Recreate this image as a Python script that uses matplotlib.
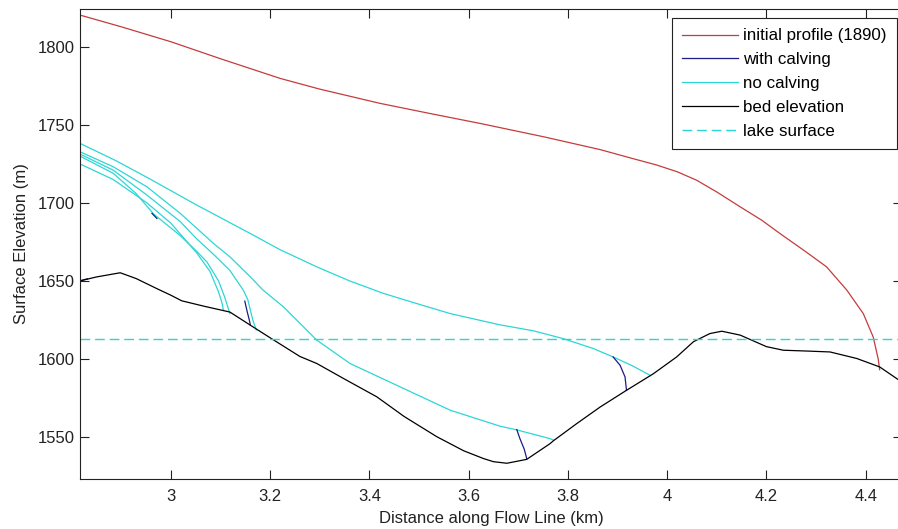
import matplotlib
matplotlib.use("Agg")
import matplotlib.pyplot as plt
from matplotlib.ticker import FixedLocator, FormatStrFormatter

plt.rcParams["font.family"] = ["Liberation Sans", "DejaVu Sans"]
plt.rcParams["font.size"] = 12

# Initial glacier surface profile (1890)
initial_x = [2.817, 2.9, 3.0, 3.1, 3.22, 3.3, 3.421, 3.52, 3.623, 3.75, 3.865,
             3.93, 3.979, 4.02, 4.059, 4.1, 4.147, 4.19, 4.227, 4.28, 4.321,
             4.362, 4.395, 4.415, 4.425, 4.428]
initial_y = [1820.5, 1813, 1803.4, 1792.5, 1779.9, 1773, 1763.9, 1757.5, 1751,
             1742.5, 1734.2, 1728.5, 1724.3, 1720, 1714.6, 1707, 1697.5,
             1689, 1680.4, 1668.5, 1659, 1644, 1629, 1614, 1600, 1593]

# Bed elevation along the flow line
bed_x = [2.817, 2.85, 2.898, 2.93, 2.972, 3.0, 3.022, 3.07, 3.119, 3.16, 3.2,
         3.26, 3.294, 3.35, 3.415, 3.47, 3.536, 3.59, 3.63, 3.65, 3.677, 3.717,
         3.764, 3.771, 3.818, 3.865, 3.918, 3.972, 4.019, 4.053, 4.086, 4.11,
         4.147, 4.2, 4.234, 4.28, 4.328, 4.382, 4.428, 4.473]
bed_y = [1650, 1652.5, 1655.2, 1651.5, 1645, 1640.8, 1637.2, 1633.5, 1630,
         1621.6, 1613.5, 1601.5, 1597, 1587, 1575.6, 1563, 1550, 1541, 1536,
         1534, 1533, 1535.5, 1545.6, 1547.5, 1558.5, 1569.1, 1579.8, 1590.4,
         1601.2, 1611, 1616.2, 1617.7, 1615.2, 1607.8, 1605.5, 1605, 1604.4,
         1600.2, 1594.8, 1585]

lake_level = 1613

# Modelled surfaces without calving
nocalv_x = [
    [2.817, 2.89, 2.96, 3.05, 3.16, 3.22, 3.294, 3.36, 3.428, 3.5, 3.563,
     3.663, 3.73, 3.79, 3.851, 3.891, 3.93, 3.965],
    [2.817, 2.884, 2.952, 3.019, 3.086, 3.119, 3.16, 3.186, 3.227, 3.294,
     3.361, 3.462, 3.563, 3.663, 3.697, 3.764, 3.771],
    [2.817, 2.884, 2.952, 3.019, 3.052, 3.086, 3.119, 3.146, 3.155, 3.165,
     3.172],
    [2.817, 2.884, 2.93, 2.965, 3.019, 3.052, 3.073, 3.096, 3.108, 3.119],
    [2.817, 2.884, 2.952, 3.0, 3.052, 3.079, 3.096, 3.103, 3.106],
]
nocalv_y = [
    [1738.2, 1727, 1715, 1699, 1680.4, 1670, 1659, 1650, 1642, 1635, 1629,
     1621.8, 1618, 1613, 1606.6, 1601.2, 1595.5, 1589.5],
    [1732.8, 1723.2, 1710.3, 1693.3, 1674, 1665.4, 1652.6, 1644, 1633.3, 1612,
     1597, 1582, 1567, 1556.8, 1554.4, 1548.8, 1547.8],
    [1731.3, 1721, 1705, 1688, 1677, 1667, 1656.7, 1644, 1638, 1625, 1618.5],
    [1730, 1719, 1706, 1693, 1679, 1669, 1662, 1650, 1640, 1629],
    [1725, 1715, 1700, 1687, 1668, 1656, 1643, 1636, 1631],
]

# Calving fronts (where the calving runs depart from the no-calving runs)
calv_x = [
    [3.891, 3.905, 3.915, 3.918],
    [3.697, 3.703, 3.712, 3.717],
    [3.149, 3.154, 3.158, 3.16],
    [2.962, 2.972],
    [2.817, 2.832],
]
calv_y = [
    [1601.2, 1595.9, 1588.4, 1579.8],
    [1554.6, 1549, 1542, 1536],
    [1637, 1630, 1625, 1622],
    [1693.3, 1690],
    [1650, 1651.3],
]

x_ticks = [3, 3.2, 3.4, 3.6, 3.8, 4, 4.2, 4.4]
y_ticks = [1550, 1600, 1650, 1700, 1750, 1800]

RED = "#c43c3c"
BLUE = "#1c1c86"
CYAN = "#2cd6d6"

W, H = 898, 529
fig = plt.figure(figsize=(W / 100, H / 100), dpi=100)
ax = fig.add_axes([80 / W, (H - 479) / H, (902 - 80) / W, (479 - 9) / H])

lw = 0.9
h_init, = ax.plot(initial_x, initial_y, color=RED, lw=lw)
for xs, ys in zip(nocalv_x, nocalv_y):
    h_nc, = ax.plot(xs, ys, color=CYAN, lw=lw)
for xs, ys in zip(calv_x, calv_y):
    h_c, = ax.plot(xs, ys, color=BLUE, lw=lw)
h_bed, = ax.plot(bed_x, bed_y, color="black", lw=lw)
h_lake = ax.axhline(lake_level, color=CYAN, lw=1.0, dashes=(7, 3.5))

ax.set_xlim(2.817, 4.473)
ax.set_ylim(1522.9, 1824.4)
ax.xaxis.set_major_locator(FixedLocator(x_ticks))
ax.yaxis.set_major_locator(FixedLocator(y_ticks))
ax.xaxis.set_major_formatter(FormatStrFormatter("%g"))
ax.yaxis.set_major_formatter(FormatStrFormatter("%g"))
ax.tick_params(direction="in", length=6.5, width=0.8, top=True, right=True,
               colors="#222222", labelcolor="#222222")
ax.tick_params(axis="x", pad=7)
ax.tick_params(axis="y", pad=4)
for s in ax.spines.values():
    s.set_linewidth(0.8)
    s.set_color("#222222")

ax.set_xlabel("Distance along Flow Line (km)", labelpad=5.5, color="#222222")
ax.set_ylabel("Surface Elevation (m)", labelpad=6, color="#222222")

leg = ax.legend([h_init, h_c, h_nc, h_bed, h_lake],
                ["initial profile (1890)", "with calving", "no calving",
                 "bed elevation", "lake surface"],
                loc="upper right",
                bbox_to_anchor=(896.7 / W, (H - 18.3) / H),
                bbox_transform=fig.transFigure, borderaxespad=0,
                fancybox=False, framealpha=1, edgecolor="#222222",
                handlelength=3.3, handletextpad=0.3, labelspacing=0.52,
                borderpad=0.6, fontsize=12.2)
leg.get_frame().set_linewidth(0.8)

fig.savefig("out.png", dpi=100)
